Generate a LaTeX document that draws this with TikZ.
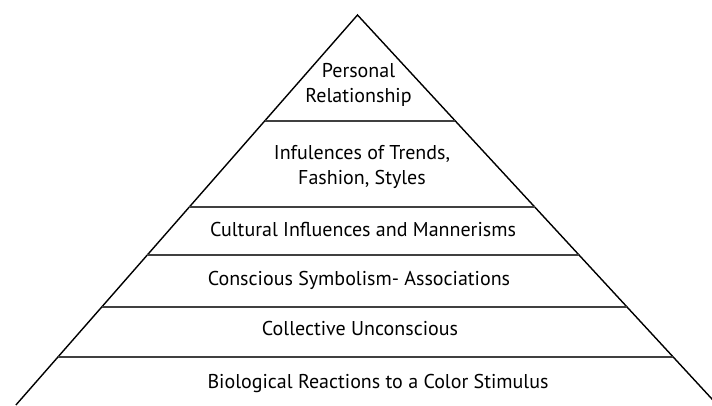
\documentclass[tikz,border=0pt]{standalone}
\usepackage{fontspec}
\setmainfont{PT Sans}
\usetikzlibrary{calc}
\begin{document}
\begin{tikzpicture}[x=1pt,y=-1pt,
  edge/.style={line width=1.4pt,black,line join=miter},
  tier/.style={line width=1.8pt,black!75},
  lbl/.style={font=\fontsize{20}{24.5}\selectfont,align=center,text=black,inner sep=0pt,anchor=base}]
\useasboundingbox[fill=white] (0,0) rectangle (712,405);
\clip (0,0) rectangle (712,405);
\coordinate (A) at (357.5,15);
\coordinate (BL) at (15.9,405);
\coordinate (BR) at (717.5,405);
\draw[edge] (BL) -- (A) -- (BR);
\foreach \t [count=\i] in {0.2718,0.4923,0.6154,0.7487,0.8769}{
  \coordinate (L\i) at ($(A)!\t!(BL)$);
  \coordinate (R\i) at ($(A)!\t!(BR)$);
  \draw[tier] (L\i) -- (R\i);
}
\node[lbl] (n1) at (358.5,102) {Personal\\Relationship};
\node[lbl] (n2) at (362,184) {Infulences of Trends,\\Fashion, Styles};
\node[lbl] (n3) at (363,236) {Cultural Influences and Mannerisms};
\node[lbl] (n4) at (359,285) {Conscious Symbolism- Associations};
\node[lbl] (n5) at (360,335) {Collective Unconscious};
\node[lbl] (n6) at (378,388) {Biological Reactions to a Color Stimulus};
\end{tikzpicture}
\end{document}
